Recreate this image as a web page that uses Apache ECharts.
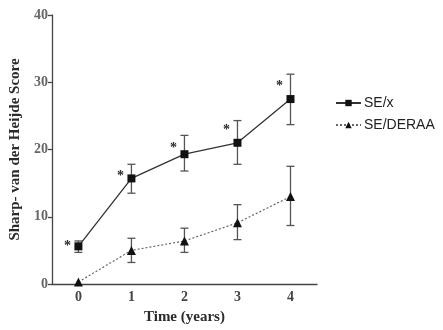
<!DOCTYPE html>
<html>
<head>
<meta charset="utf-8">
<script src="https://cdn.jsdelivr.net/npm/echarts@6/dist/echarts.min.js"></script>
<style>
  html, body { margin: 0; padding: 0; background: #fff; }
  #chart { width: 443px; height: 330px; }
</style>
</head>
<body>
<div id="chart"></div>
<script>
// years
var years = ['0', '1', '2', '3', '4'];
// SE/x mean and error bar ends
var sexMean = [5.6, 15.7, 19.3, 21.0, 27.5];
var sexLow = [4.7, 13.5, 16.8, 17.8, 23.7];
var sexHigh = [6.4, 17.8, 22.1, 24.3, 31.2];
// SE/DERAA mean and error bar ends
var deraaMean = [0.3, 5.0, 6.4, 9.1, 13.0];
var deraaLow = [0.3, 3.2, 4.7, 6.6, 8.7];
var deraaHigh = [0.3, 6.8, 8.3, 11.8, 17.5];
// height of the significance stars
var starY = [6.0, 16.5, 20.6, 23.3, 29.9];
var yTicks = [0, 10, 20, 30, 40];

var ink = '#2b2b2b';
var serif = '"Liberation Serif", "DejaVu Serif", serif';

function errRows(low, high) {
    return years.map(function (y, i) { return [i, low[i], high[i]]; });
}

// vertical error bar with caps
function renderErr(params, api) {
    var lo = api.coord([api.value(0), api.value(1)]);
    var hi = api.coord([api.value(0), api.value(2)]);
    if (Math.abs(lo[1] - hi[1]) < 1) return null;
    var cap = 4;
    var st = { stroke: '#555', lineWidth: 1.3 };
    return {
        type: 'group',
        children: [
            { type: 'line', shape: { x1: lo[0], y1: lo[1], x2: hi[0], y2: hi[1] }, style: st },
            { type: 'line', shape: { x1: lo[0] - cap, y1: lo[1], x2: lo[0] + cap, y2: lo[1] }, style: st },
            { type: 'line', shape: { x1: hi[0] - cap, y1: hi[1], x2: hi[0] + cap, y2: hi[1] }, style: st }
        ]
    };
}

function renderStar(params, api) {
    var p = api.coord([api.value(0), api.value(1)]);
    return {
        type: 'text',
        x: p[0] - 11,
        y: p[1] + 3,
        style: {
            text: '*',
            font: 'bold 14px ' + serif,
            fill: ink,
            align: 'center',
            verticalAlign: 'middle'
        }
    };
}

var chart = echarts.init(document.getElementById('chart'), null, { renderer: 'canvas' });

var option = {
    animation: false,
    backgroundColor: '#fff',
    grid: { left: 49, top: 15, width: 268, height: 273, containLabel: false },
    legend: {
        orient: 'vertical',
        left: 335,
        top: 96,
        padding: 0,
        itemWidth: 25,
        itemHeight: 8,
        itemGap: 8,
        data: ['SE/x', 'SE/DERAA'],
        textStyle: { fontFamily: '"Liberation Sans", Arial, sans-serif', fontSize: 14, color: '#222', padding: [0, 0, 0, -2] }
    },
    xAxis: {
        type: 'category',
        data: years,
        boundaryGap: true,
        name: 'Time (years)',
        nameLocation: 'middle',
        nameGap: 26,
        nameTextStyle: { fontFamily: serif, fontWeight: 'bold', fontSize: 15, color: ink },
        axisLine: { lineStyle: { color: '#444', width: 1.3 } },
        axisTick: { alignWithLabel: true, length: 4, lineStyle: { color: '#444', width: 1.3 } },
        axisLabel: { fontFamily: serif, fontWeight: 'bold', fontSize: 14, color: '#444', margin: 6 },
        splitLine: { show: false }
    },
    yAxis: {
        type: 'value',
        min: yTicks[0],
        max: yTicks[yTicks.length - 1],
        interval: 10,
        name: 'Sharp- van der Heijde Score',
        nameLocation: 'middle',
        nameGap: 22,
        nameTextStyle: { fontFamily: serif, fontWeight: 'bold', fontSize: 15, color: ink },
        axisLine: { show: true, lineStyle: { color: '#444', width: 1.3 } },
        axisTick: { show: true, length: 4, lineStyle: { color: '#444', width: 1.3 } },
        axisLabel: { fontFamily: serif, fontWeight: 'bold', fontSize: 14, color: '#666', margin: 4 },
        splitLine: { show: false }
    },
    series: [
        {
            name: 'SE/x',
            type: 'line',
            data: sexMean,
            symbol: 'rect',
            symbolSize: 8,
            itemStyle: { color: '#111' },
            lineStyle: { color: '#333', width: 1.3, type: 'solid' },
            z: 5
        },
        {
            name: 'SE/DERAA',
            type: 'line',
            data: deraaMean,
            symbol: 'triangle',
            symbolSize: 9,
            itemStyle: { color: '#111' },
            lineStyle: { color: '#666', width: 1.2, type: [2, 2] },
            z: 5
        },
        {
            type: 'custom',
            renderItem: renderErr,
            data: errRows(sexLow, sexHigh),
            encode: { x: 0, y: [1, 2] },
            silent: true,
            z: 3
        },
        {
            type: 'custom',
            renderItem: renderErr,
            data: errRows(deraaLow, deraaHigh),
            encode: { x: 0, y: [1, 2] },
            silent: true,
            z: 3
        },
        {
            type: 'custom',
            renderItem: renderStar,
            data: starY.map(function (v, i) { return [i, v]; }),
            encode: { x: 0, y: 1 },
            silent: true,
            z: 6
        }
    ]
};

chart.setOption(option);
</script>
</body>
</html>
